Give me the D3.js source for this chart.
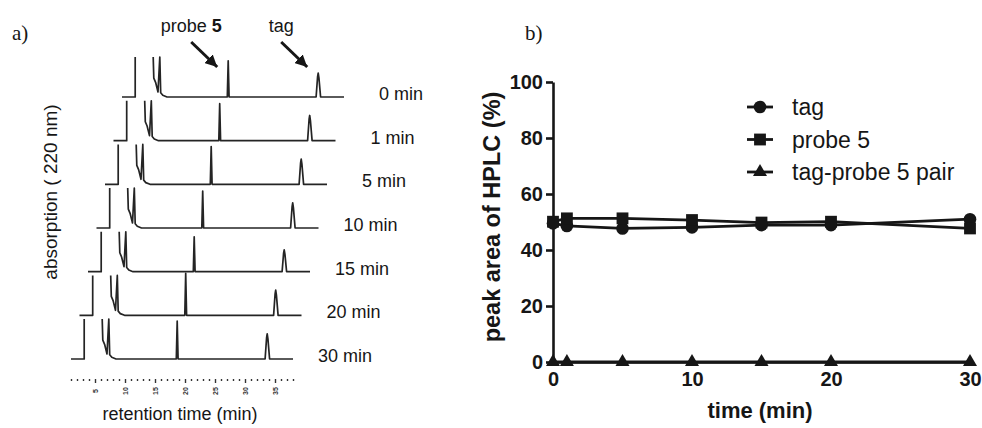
<!DOCTYPE html>
<html>
<head>
<meta charset="utf-8">
<script src="https://cdn.jsdelivr.net/npm/d3@7"></script>
<style>
  body { margin: 0; background: #fff; }
  svg { display: block; }
</style>
</head>
<body>
<svg id="chart" width="982" height="428"></svg>
<script>
// ---- panel a data: HPLC traces, one per incubation time ----
var runLabels = ["0 min", "1 min", "5 min", "10 min", "15 min", "20 min", "30 min"];
var probeHeights = [86, 88, 90, 88, 83, 100, 90];
var tagHeights = [57, 60, 60, 60, 52, 60, 60];
// solvent front goes off scale, then the double injection peak
var frontSegment = [[1.0, 0], [3.2, 0], [3.2, 95]];
var solventPeaks = [[6.2, 95], [6.3, 45], [6.6, 35], [7.0, 12], [7.3, 95], [7.45, 10], [7.8, 4], [8.5, 0]];
var probeTime = 18.7;
var tagTime = 33.7;
var runEnd = 38;
var retentionTicks = d3.range(1, 39);

// ---- panel b data: peak area (%) vs time ----
var sampleTimes = [0, 1, 5, 10, 15, 20, 30];
var tagArea = [49.5, 48.6, 47.7, 48.1, 48.9, 48.9, 51.0];
var probeArea = [50.1, 51.3, 51.3, 50.7, 49.8, 50.1, 47.7];
var pairArea = [0, 0, 0, 0, 0, 0, 0];
var yTicks = [0, 20, 40, 60, 80, 100];
var xTicks = [0, 10, 20, 30];
var seriesNames = ["tag", "probe 5", "tag-probe 5 pair"];

var svg = d3.select("#chart");
svg.append("rect").attr("width", 982).attr("height", 428).attr("fill", "#fff");

var ink = "#161616";

svg.append("defs").append("marker")
  .attr("id", "head")
  .attr("markerUnits", "userSpaceOnUse")
  .attr("markerWidth", 12).attr("markerHeight", 12)
  .attr("refX", 10).attr("refY", 5)
  .attr("orient", "auto")
  .attr("viewBox", "0 0 10 10")
  .append("path").attr("d", "M0,0 L10,5 L0,10 z").attr("fill", ink);

// ================= panel a =================
var pa = svg.append("g");

pa.append("text").attr("x", 12).attr("y", 40)
  .style("font-family", "'Liberation Serif', 'Times New Roman', serif")
  .style("font-size", "21px").attr("fill", ink).text("a)");

var xRet = d3.scaleLinear().domain([0, 40]).range([65, 305]);
var absorb = d3.scaleLinear().domain([0, 100]).range([0, -42]);
var shiftX = d3.scaleLinear().domain([0, runLabels.length - 1]).range([51, 0]);
var baseY = d3.scaleLinear().domain([0, runLabels.length - 1]).range([97, 359]);

var traceLine = d3.line()
  .x(function (d) { return xRet(d[0]); })
  .y(function (d) { return absorb(d[1]); });

runLabels.forEach(function (label, i) {
  var row = pa.append("g")
    .attr("transform", "translate(" + shiftX(i) + "," + baseY(i) + ")");

  var mainSegment = solventPeaks.concat([
    [probeTime - 0.15, 0], [probeTime, probeHeights[i]], [probeTime + 0.15, 0],
    [tagTime - 0.35, 0], [tagTime - 0.1, tagHeights[i] * 0.85], [tagTime, tagHeights[i]],
    [tagTime + 0.12, tagHeights[i] * 0.8], [tagTime + 0.4, 0], [runEnd, 0]
  ]);

  [frontSegment, mainSegment].forEach(function (seg) {
    row.append("path")
      .attr("d", traceLine(seg))
      .attr("fill", "none")
      .attr("stroke", "#242424")
      .attr("stroke-width", 1.7)
      .attr("stroke-linejoin", "round");
  });

  row.append("text")
    .attr("x", xRet(runEnd) + 79)
    .attr("y", 3)
    .attr("text-anchor", "end")
    .style("font-family", "'Liberation Sans', Arial, sans-serif")
    .style("font-size", "18px")
    .attr("fill", ink)
    .text(label);
});

// arrows pointing at the probe and tag peaks of the top trace
[[probeTime, "probe "], [tagTime, "tag"]].forEach(function (p) {
  var tipX = shiftX(0) + xRet(p[0]) - 11;
  var tipY = 67;
  pa.append("line")
    .attr("x1", tipX - 26).attr("y1", tipY - 25)
    .attr("x2", tipX).attr("y2", tipY)
    .attr("stroke", ink).attr("stroke-width", 3)
    .attr("marker-end", "url(#head)");
  var t = pa.append("text")
    .attr("x", tipX - 26).attr("y", 32)
    .attr("text-anchor", "middle")
    .style("font-family", "'Liberation Sans', Arial, sans-serif")
    .style("font-size", "18px")
    .attr("fill", ink);
  t.append("tspan").text(p[1]);
  if (p[1] === "probe ") t.append("tspan").style("font-weight", "bold").text("5");
});

// retention time axis (dotted)
var retAxis = pa.append("g")
  .attr("transform", "translate(0,379)")
  .call(d3.axisBottom(xRet)
    .tickValues(retentionTicks)
    .tickSize(2)
    .tickPadding(0)
    .tickFormat(function (d) { return d % 5 === 0 ? d : ""; }));
retAxis.select(".domain").remove();
retAxis.selectAll(".tick line").attr("stroke", "#333").attr("stroke-width", 1.4)
  .attr("y2", function (d) { return d % 5 === 0 ? 4 : 2; });
retAxis.selectAll(".tick text")
  .attr("y", 0).attr("dy", null)
  .attr("transform", "translate(0,12) rotate(-90)")
  .attr("text-anchor", "middle")
  .attr("dominant-baseline", "central")
  .style("font-family", "'Liberation Sans', Arial, sans-serif")
  .style("font-size", "7px")
  .style("font-weight", "bold")
  .attr("fill", "#333");

pa.append("text")
  .attr("x", 180).attr("y", 420)
  .attr("text-anchor", "middle")
  .style("font-family", "'Liberation Sans', Arial, sans-serif")
  .style("font-size", "18px")
  .attr("fill", ink)
  .text("retention time (min)");

pa.append("text")
  .attr("transform", "translate(57,192) rotate(-90)")
  .attr("text-anchor", "middle")
  .style("font-family", "'Liberation Sans', Arial, sans-serif")
  .style("font-size", "19px")
  .attr("fill", ink)
  .text("absorption ( 220 nm)");

// ================= panel b =================
var pb = svg.append("g");

pb.append("text").attr("x", 525).attr("y", 40)
  .style("font-family", "'Liberation Serif', 'Times New Roman', serif")
  .style("font-size", "21px").attr("fill", ink).text("b)");

var x = d3.scaleLinear().domain([0, 30]).range([553, 970]);
var y = d3.scaleLinear().domain([0, 100]).range([362, 82]);

var yAxis = pb.append("g")
  .attr("transform", "translate(553,0)")
  .call(d3.axisLeft(y).tickValues(yTicks).tickSize(7).tickSizeOuter(0).tickPadding(3));

var xAxis = pb.append("g")
  .attr("transform", "translate(0,362)")
  .call(d3.axisBottom(x).tickValues(xTicks).tickSize(0).tickSizeOuter(0).tickPadding(16));

[yAxis, xAxis].forEach(function (ax) {
  ax.selectAll(".domain, .tick line").attr("stroke", ink).attr("stroke-width", 2.6);
  ax.selectAll(".tick text")
    .style("font-family", "'Liberation Sans', Arial, sans-serif")
    .style("font-size", "20px")
    .style("font-weight", "bold")
    .attr("fill", ink);
});
xAxis.selectAll(".tick text").attr("dy", "0.42em");

pb.append("text")
  .attr("transform", "translate(500,217) rotate(-90)")
  .attr("text-anchor", "middle")
  .style("font-family", "'Liberation Sans', Arial, sans-serif")
  .style("font-size", "23.5px")
  .style("font-weight", "bold")
  .attr("fill", ink)
  .text("peak area of HPLC (%)");

pb.append("text")
  .attr("x", 760).attr("y", 418)
  .attr("text-anchor", "middle")
  .style("font-family", "'Liberation Sans', Arial, sans-serif")
  .style("font-size", "22px")
  .style("font-weight", "bold")
  .attr("fill", ink)
  .text("time (min)");

var seriesValues = [tagArea, probeArea, pairArea];
var seriesSymbols = [
  d3.symbol().type(d3.symbolCircle).size(125),
  d3.symbol().type(d3.symbolSquare).size(140),
  d3.symbol().type(d3.symbolTriangle).size(85)
];

var line = d3.line()
  .x(function (d) { return x(d.t); })
  .y(function (d) { return y(d.v); });

seriesValues.forEach(function (vals, s) {
  var pts = sampleTimes.map(function (t, k) { return { t: t, v: vals[k] }; });
  pb.append("path")
    .attr("d", line(pts))
    .attr("fill", "none")
    .attr("stroke", ink)
    .attr("stroke-width", 2.8);
  pb.selectAll(null).data(pts).enter().append("path")
    .attr("transform", function (d) { return "translate(" + x(d.t) + "," + y(d.v) + ")"; })
    .attr("d", seriesSymbols[s])
    .attr("fill", ink);
});

// legend
var legend = pb.append("g").attr("transform", "translate(747,107)");
seriesNames.forEach(function (name, s) {
  var g = legend.append("g").attr("transform", "translate(0," + (s * 32.5) + ")");
  g.append("line").attr("x1", 0).attr("x2", 26)
    .attr("stroke", ink).attr("stroke-width", 2.8);
  g.append("path").attr("transform", "translate(13,0)")
    .attr("d", seriesSymbols[s]).attr("fill", ink);
  g.append("text")
    .attr("x", 45).attr("y", 0)
    .attr("dominant-baseline", "central")
    .style("font-family", "'Liberation Sans', Arial, sans-serif")
    .style("font-size", "23px")
    .attr("fill", ink)
    .text(name);
});
</script>
</body>
</html>
